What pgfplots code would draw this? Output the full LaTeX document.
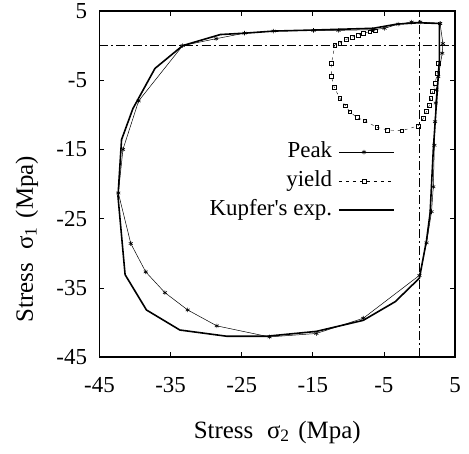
\documentclass[border=0pt]{standalone}
\usepackage{pgfplots}
\pgfplotsset{compat=1.18}
\usepackage{fontspec}
\setmainfont{Liberation Serif}
\begin{document}
\begin{tikzpicture}
\begin{axis}[
  scale only axis,
  width=355.5bp, height=346bp,
  xmin=-45, xmax=5, ymin=-45, ymax=5,
  xtick={-45,-35,-25,-15,-5,5},
  ytick={-45,-35,-25,-15,-5,5},
  /pgf/number format/assume math mode=true,
  font=\fontsize{23}{27}\selectfont,
  axis line style={line width=1.1bp},
  major tick length=5bp,
  tick style={black, line width=0.6bp},
  xticklabel style={yshift=-17bp},
  yticklabel style={xshift=-9bp},
  xlabel={Stress\hspace{0.55em}σ\textsubscript{2}\hspace{0.1em} (Mpa)},
  ylabel={Stress\hspace{0.55em}σ\textsubscript{1}\hspace{0.1em} (Mpa)},
  xlabel style={at={(axis description cs:0.5,-0.217)}, anchor=center, font=\fontsize{25}{29}\selectfont},
  ylabel style={at={(axis description cs:-0.204,0.34)}, anchor=center, font=\fontsize{25}{29}\selectfont},
  legend plot pos=right,
  legend cell align=right,
  legend style={draw=none, fill=none, inner sep=0pt, at={(axis cs:-3.44,-13.7)}, anchor=north east,
    row sep=6bp, column sep=5bp, font=\fontsize{23}{27}\selectfont,
    nodes={inner sep=1bp, text height=16bp, text depth=5bp}},
  legend image code/.code={\draw[mark repeat=2,mark phase=2,#1] plot coordinates {(0bp,0bp) (25bp,0bp) (55bp,0bp)};},
]
% reference lines
\addplot[forget plot, black, line width=0.5bp, dash pattern=on 9bp off 3bp on 2bp off 3bp] coordinates {(0,-45) (0,5)};
\addplot[forget plot, black, line width=0.5bp, dash pattern=on 9bp off 3bp on 2bp off 3bp] coordinates {(-45,0) (5,0)};
% Peak
\addplot[black, line width=0.5bp, mark=asterisk, mark size=2.3bp, mark options={solid, line width=0.6bp}] coordinates {
(2.9,3.2) (0.1,3.4) (-1.1,3.4) (-3.0,3.1) (-4.9,2.5) (-6.6,2.3) (-11.4,2.2) (-14.9,2.2) (-20.5,2.1) (-24.6,1.8) (-28.6,1.0) (-33.3,0.0) (-39.5,-8.0) (-41.7,-15.0) (-42.35,-21.3) (-40.6,-28.6) (-38.5,-32.7) (-35.8,-35.7) (-32.6,-38.2) (-28.5,-40.5) (-21.1,-42.1) (-14.5,-41.6) (-7.9,-39.4) (0,-33.2) (1.0,-28.5) (1.7,-24.0) (1.95,-20.4) (2.1,-14.4) (2.2,-11.0) (2.3,-8.3) (2.4,-6.4) (2.65,-4.5) (3.2,-1.1) (3.3,0.3) (2.9,3.2)
};
\addlegendentry{\makebox[125bp][r]{Peak}}
% yield
\addplot[black, line width=0.4bp, dash pattern=on 3bp off 4bp, mark=square, mark size=1.9bp, mark options={solid, line width=0.5bp}] coordinates {
(-6.2,2.15) (-7.0,2.0) (-7.9,1.8) (-8.6,1.5) (-9.5,1.2) (-10.3,0.9) (-11.2,0.35) (-11.9,0.1) (-12.35,-2.5) (-12.4,-4.4) (-12.0,-6.0) (-11.2,-7.6) (-10.4,-8.7) (-9.8,-9.55) (-8.8,-10.4) (-7.7,-10.85) (-6.0,-11.8) (-4.5,-12.2) (-2.5,-12.3) (-0.2,-11.6) (0.55,-10.5) (1.0,-9.5) (1.4,-8.6) (1.6,-7.6) (1.85,-6.65) (2.2,-5.45) (2.5,-4.0) (2.7,-2.6)
};
\addlegendentry{\makebox[125bp][r]{yield}}
% Kupfer
\addplot[black, line width=1.6bp] coordinates {
(2.8,3.2) (-0.15,3.3) (-3.2,3.1) (-6.5,2.5) (-14.9,2.25) (-20.5,2.1) (-24.5,1.8) (-28.0,1.6) (-33.3,0.0) (-37.2,-3.3) (-40.3,-9.1) (-41.9,-13.6) (-42.4,-21.8) (-41.4,-33.1) (-38.4,-38.2) (-33.7,-41.1) (-27.1,-42.0) (-21.5,-42.0) (-14.5,-41.3) (-7.9,-39.7) (-3.4,-37.0) (0,-33.6) (1.0,-28.1) (1.5,-24.2) (1.95,-15.0) (2.8,-2.1) (2.8,3.2)
};
\addlegendentry{\makebox[125bp][r]{Kupfer\textquotesingle s exp.}}
\end{axis}
\pgfresetboundingbox
\path (current axis.south west) ++(-99.5bp,-97bp) rectangle ++(469bp,454bp);
\end{tikzpicture}
\end{document}
